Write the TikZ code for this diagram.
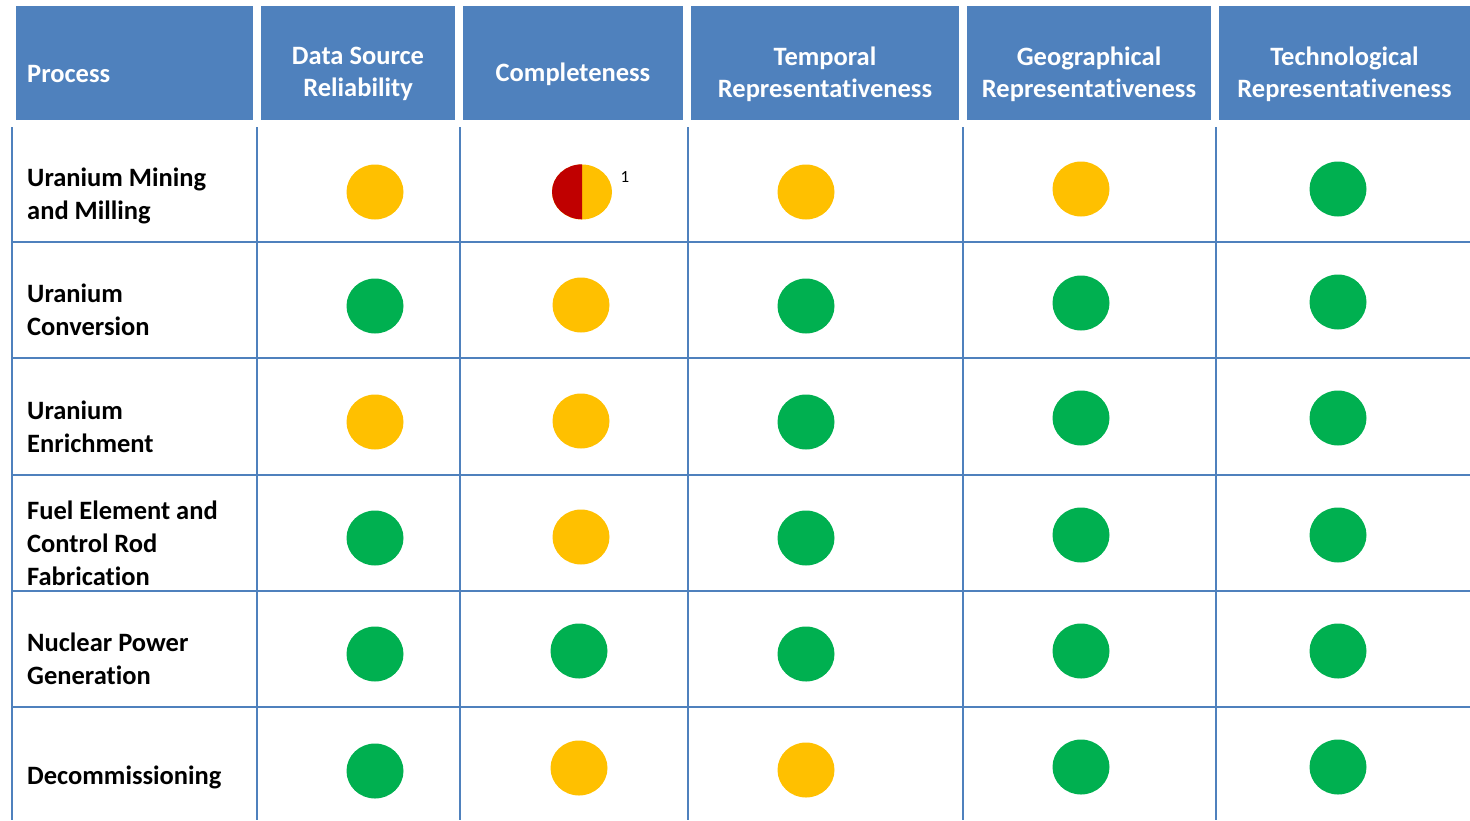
\documentclass[tikz,border=0pt]{standalone}
\usepackage{fontspec}
\setmainfont{Carlito}[Ligatures=NoCommon]
\usetikzlibrary{shapes.geometric}
\definecolor{hdr}{HTML}{4F81BD}
\definecolor{yel}{HTML}{FFC000}
\definecolor{grn}{HTML}{00B050}
\definecolor{rd}{HTML}{C00000}
\begin{document}
\begin{tikzpicture}[x=1pt,y=-1pt,
  hbox/.style={fill=hdr, draw=none, inner sep=0pt, minimum height=114pt},
  htext/.style={text=white, font=\fontsize{26.5}{32}\selectfont\bfseries, inner sep=0pt, align=center},
  lbl/.style={anchor=west, font=\fontsize{26.5}{33}\selectfont\bfseries, inner sep=0pt, align=left},
  dot/.style={ellipse, minimum width=57pt, minimum height=55pt, inner sep=0pt, draw=none},
  gr/.style={dot, fill=grn},
  yl/.style={dot, fill=yel},
  gridline/.style={draw=hdr, line width=2.4pt}]
\useasboundingbox (0,0) rectangle (1470,820);
\fill[white] (0,0) rectangle (1470,820);
% header boxes
\node[hbox, minimum width=237pt] (b1) at (134.5,63) {};
\node[hbox, minimum width=194pt] (b2) at (358,63) {};
\node[hbox, minimum width=220pt] (b3) at (573,63) {};
\node[hbox, minimum width=268pt] (b4) at (825,63) {};
\node[hbox, minimum width=244pt] (b5) at (1089,63) {};
\node[hbox, minimum width=251pt] (b6) at (1344.5,63) {};
\node[htext, anchor=west] (t1) at (27,74) {Process};
\node[htext] (t2) at (358,74) {Data Source\\Reliability};
\node[htext] (t3) at (573,74) {Completeness};
\node[htext] (t4) at (825,74) {Temporal\\Representativeness};
\node[htext] (t5) at (1089,74) {Geographical\\Representativeness};
\node[htext] (t6) at (1344.5,74) {Technological\\Representativeness};
% grid
\foreach \x in {12,257,460,688,963,1216} \draw[gridline] (\x,127) -- (\x,820);
\foreach \y in {242,358,475,591,707} \draw[gridline] (12,\y) -- (1470,\y);
% row labels
\node[lbl] (r1) at (27,196) {Uranium Mining\\and Milling};
\node[lbl] (r2) at (27,310) {Uranium\\Conversion};
\node[lbl] (r3) at (27,426.5) {Uranium\\Enrichment};
\node[lbl] (r4) at (27,543) {Fuel Element and\\Control Rod\\Fabrication};
\node[lbl] (r5) at (27,659) {Nuclear Power\\Generation};
\node[lbl] (r6) at (27,777) {Decommissioning};
% row 1
\node[yl] (c12) at (375,192) {};
\node[yl, minimum width=60pt] (c13) at (582,192) {};
\fill[rd] (c13.north) arc[start angle=270, end angle=90, x radius=30, y radius=27.5] -- cycle;
\node[font=\fontsize{17}{18}\selectfont, inner sep=0pt] (fn1) at (625,177) {1};
\node[yl] (c14) at (806,192) {};
\node[yl] (c15) at (1081,189) {};
\node[gr] (c16) at (1338,189) {};
% row 2
\node[gr] (c22) at (375,306) {};
\node[yl] (c23) at (581,305) {};
\node[gr] (c24) at (806,306) {};
\node[gr] (c25) at (1081,303) {};
\node[gr] (c26) at (1338,302) {};
% row 3
\node[yl] (c32) at (375,422) {};
\node[yl] (c33) at (581,421) {};
\node[gr] (c34) at (806,422) {};
\node[gr] (c35) at (1081,418) {};
\node[gr] (c36) at (1338,418) {};
% row 4
\node[gr] (c42) at (375,538) {};
\node[yl] (c43) at (581,537) {};
\node[gr] (c44) at (806,538) {};
\node[gr] (c45) at (1081,535) {};
\node[gr] (c46) at (1338,535) {};
% row 5
\node[gr] (c52) at (375,654) {};
\node[gr] (c53) at (579,651) {};
\node[gr] (c54) at (806,654) {};
\node[gr] (c55) at (1081,651) {};
\node[gr] (c56) at (1338,651) {};
% row 6
\node[gr] (c62) at (375,771) {};
\node[yl] (c63) at (579,768) {};
\node[yl] (c64) at (806,770) {};
\node[gr] (c65) at (1081,767) {};
\node[gr] (c66) at (1338,767) {};
\end{tikzpicture}
\end{document}
